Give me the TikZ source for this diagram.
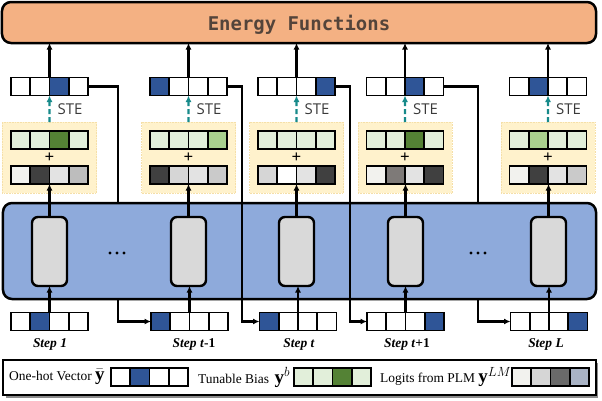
\RequirePackage{fix-cm}
\documentclass[tikz,border=0pt]{standalone}
\usepackage{fontspec}
\setmainfont{Liberation Serif}
\newfontfamily\stefont{Open Sans}
\newfontfamily\titlefont{DejaVu Sans Mono}
\usetikzlibrary{arrows.meta}
\definecolor{eorange}{HTML}{F4B183}
\definecolor{bluebg}{HTML}{8EAADB}
\definecolor{onehot}{HTML}{2F5597}
\definecolor{glight}{HTML}{E2EFDA}
\definecolor{gmid}{HTML}{A9D18E}
\definecolor{gdark}{HTML}{548235}
\definecolor{yel}{HTML}{FFF2CC}
\definecolor{yelline}{HTML}{F5DFA8}
\definecolor{stecol}{HTML}{178A8A}
\definecolor{rnngray}{HTML}{D9D9D9}
\definecolor{titlecol}{HTML}{54443A}
\definecolor{stetext}{HTML}{3A3A3A}
\definecolor{vl}{HTML}{F2F2EE}
\definecolor{dk}{HTML}{404040}
\definecolor{lg}{HTML}{E3E3E3}
\definecolor{mgA}{HTML}{BDBDBD}
\definecolor{dn}{HTML}{D6D6D6}
\definecolor{cc}{HTML}{CACACA}
\definecolor{md}{HTML}{7E7A78}
\definecolor{lgdark}{HTML}{6A6A6A}
\definecolor{lgblue}{HTML}{A9B3C5}
\newcommand{\cellrow}[7]{%
  \foreach \fc [count=\ci] in {#4,#5,#6,#7}{%
    \node[cellbox, fill=\fc] (#1-\ci) at ({#2+(\ci-2.5)*19.25},#3) {};
  }}
\newcommand{\mathbig}[1]{{\fontsize{19}{19}\selectfont$#1$}}
\tikzset{
  cellbox/.style={draw, line width=1.6bp, minimum width=19.25bp, minimum height=18bp, inner sep=0pt, outer sep=0pt},
  ebox/.style={draw, line width=2.5bp, rounded corners=9bp, fill=eorange, inner sep=0pt, outer sep=0pt},
  bluebox/.style={draw, line width=2.5bp, rounded corners=9bp, fill=bluebg, inner sep=0pt, outer sep=0pt},
  yelbox/.style={fill=yel, draw=yelline, densely dotted, line width=0.6bp, minimum width=94bp, minimum height=71bp, inner sep=0pt, outer sep=0pt},
  rnn/.style={draw, line width=2.4bp, rounded corners=6bp, fill=rnngray, minimum width=35bp, minimum height=69bp, inner sep=0pt, outer sep=0pt},
  conn/.style={line width=2.2bp, -{Latex[length=6.5bp,width=6bp]}},
  stearr/.style={line width=2.2bp, stecol, dash pattern=on 5bp off 3bp, -{Latex[length=6.5bp,width=6bp]}},
  ste/.style={font=\stefont\fontsize{15}{15}\selectfont, text=stetext, inner sep=0pt},
  plus/.style={font=\bfseries\fontsize{17}{17}\selectfont, inner sep=0pt},
  steplab/.style={font=\fontsize{13.5}{14}\selectfont, inner sep=0pt},
  legtext/.style={font=\fontsize{13.5}{14}\selectfont, inner sep=0pt, anchor=west},
}
\begin{document}
\begin{tikzpicture}[x=1bp,y=-1bp]
\useasboundingbox (0,0) rectangle (602,400);
% energy box
\node[ebox, minimum width=594bp, minimum height=41bp, font=\titlefont\bfseries\fontsize{19}{19}\selectfont, text=titlecol, text depth=0pt] (energy) at (299,22.5) {Energy Functions};
% yellow boxes
\node[yelbox] (y1) at (49.5,157.5) {};
\node[yelbox] (y2) at (188.5,157.5) {};
\node[yelbox] (y3) at (296.5,157.5) {};
\node[yelbox] (y4) at (405,157.5) {};
\node[yelbox] (y5) at (548,157.5) {};
% top one-hot vectors
\cellrow{top1}{49.5}{86.5}{white}{white}{onehot}{white}
\cellrow{top2}{188.5}{86.5}{onehot}{white}{white}{white}
\cellrow{top3}{296.5}{86.5}{white}{white}{white}{onehot}
\cellrow{top4}{405}{86.5}{white}{white}{onehot}{white}
\cellrow{top5}{548}{86.5}{white}{onehot}{white}{white}
% bias vectors
\cellrow{bias1}{49.5}{140}{glight}{glight}{gdark}{glight}
\cellrow{bias2}{188.5}{140}{glight}{glight}{glight}{gmid}
\cellrow{bias3}{296.5}{140}{glight}{glight}{glight}{glight}
\cellrow{bias4}{405}{140}{glight}{glight}{gdark}{glight}
\cellrow{bias5}{548}{140}{glight}{gmid}{glight}{glight}
% plus signs
\node[plus] (p1) at (49.5,158) {+};
\node[plus] (p2) at (188.5,158) {+};
\node[plus] (p3) at (296.5,158) {+};
\node[plus] (p4) at (405,158) {+};
\node[plus] (p5) at (548,158) {+};
% logits vectors
\cellrow{lm1}{49.5}{175}{vl}{dk}{lg}{mgA}
\cellrow{lm2}{188.5}{175}{dk}{dn}{lg}{cc}
\cellrow{lm3}{296.5}{175}{dn}{white}{lg}{dk}
\cellrow{lm4}{405}{175}{vl}{md}{lg}{dk}
\cellrow{lm5}{548}{175}{vl}{dk}{lg}{cc}
% input vectors
\cellrow{in1}{49.5}{321.5}{white}{onehot}{white}{white}
\cellrow{in2}{189.5}{321.5}{onehot}{white}{white}{white}
\cellrow{in3}{298}{321.5}{onehot}{white}{white}{white}
\cellrow{in4}{405.5}{321.5}{white}{white}{white}{onehot}
\cellrow{in5}{549}{321.5}{white}{white}{white}{onehot}
% recurrent connectors (behind the box)
\coordinate (b1) at (118,321.5);
\coordinate (b2) at (242,321.5);
\coordinate (b3) at (350,321.5);
\coordinate (b4) at (478,321.5);
\draw[conn] (top1-4.east) -| (b1) -- (in2-1.west);
\draw[conn] (top4-4.east) -| (b4) -- (in5-1.west);
% big blue box
\node[bluebox, minimum width=593bp, minimum height=96bp] (rnnbox) at (299.5,251) {};
\draw[conn] (top2-4.east) -| (b2) -- (in3-1.west);
\draw[conn] (top3-4.east) -| (b3) -- (in4-1.west);
% recurrent cells
\node[rnn] (r1) at (49.5,251.5) {};
\node[rnn] (r2) at (188.5,251.5) {};
\node[rnn] (r3) at (296.5,251.5) {};
\node[rnn] (r4) at (405.5,251.5) {};
\node[rnn] (r5) at (548.5,251.5) {};
% ellipses
\foreach \dx in {-7,0,7} {
  \fill (117+\dx,253) circle (1.6bp);
  \fill (478+\dx,253) circle (1.6bp);
}
% arrows per column
\foreach \k in {1,...,5} {
  \draw[conn] (top\k-2.north east) -- (top\k-2.north east |- energy.south);
  \draw[stearr] (y\k.north) -- (top\k-2.south east);
  \draw[conn] (r\k.north) -- (r\k.north |- lm\k-2.south east);
  \draw[conn] (in\k-2.north east) -- (in\k-2.north east |- r\k.south);
}
% STE labels
\node[ste] (ste1) at (70,109) {STE};
\node[ste] (ste2) at (209,109) {STE};
\node[ste] (ste3) at (317,109) {STE};
\node[ste] (ste4) at (425.5,109) {STE};
\node[ste] (ste5) at (568.5,109) {STE};
% step labels
\node[steplab] (s1) at (50,344) {\textbf{\textit{Step 1}}};
\node[steplab] (s2) at (194,344) {\textbf{\textit{Step t}-1}};
\node[steplab] (s3) at (299,344) {\textbf{\textit{Step t}}};
\node[steplab] (s4) at (407,344) {\textbf{\textit{Step t}+1}};
\node[steplab] (s5) at (546,344) {\textbf{\textit{Step L}}};
% legend
\fill[black!45] (5.5,362.5) rectangle (598,397.5);
\node[draw, fill=white, line width=1.2bp, minimum width=593bp, minimum height=35bp, inner sep=0pt, outer sep=0pt] (legend) at (299.5,377.5) {};
\node[legtext] (lt1) at (9,377) {One-hot Vector \mathbig{\bar{\mathbf{y}}}};
\cellrow{leg1}{149.5}{377}{white}{onehot}{white}{white}
\node[legtext] (lt2) at (198,377) {Tunable Bias\, \mathbig{\mathbf{y}^b}};
\cellrow{leg2}{332.5}{377}{glight}{glight}{gdark}{glight}
\node[legtext] (lt3) at (380,377) {Logits from PLM \mathbig{\mathbf{y}^{LM}}};
\cellrow{leg3}{550.5}{377}{vl}{dn}{lgdark}{lgblue}
\end{tikzpicture}
\end{document}
